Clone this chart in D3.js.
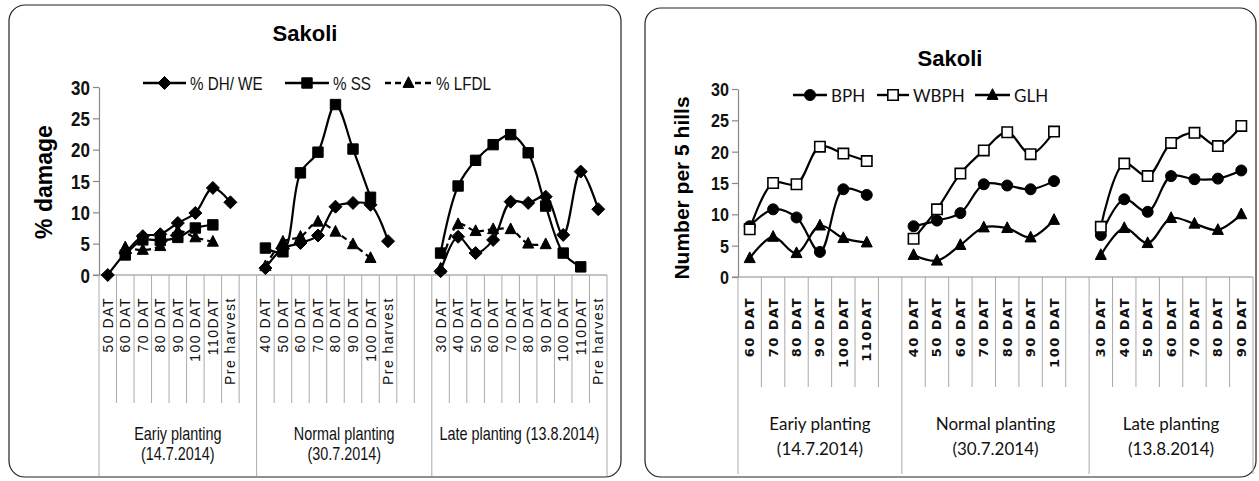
<!DOCTYPE html>
<html>
<head>
<meta charset="utf-8">
<script src="https://cdn.jsdelivr.net/npm/d3@7"></script>
<style>
  html, body { margin: 0; padding: 0; background: #fff; }
  svg { display: block; }
</style>
</head>
<body>
<svg id="chart" width="1259" height="481"></svg>
<script>
// ---------- Damage panel (left) ----------
const damageGroups = ["Eariy planting|(14.7.2014)", "Normal planting|(30.7.2014)", "Late planting (13.8.2014)"];
const damageCatsEarly  = ["50 DAT", "60 DAT", "70 DAT", "80 DAT", "90 DAT", "100 DAT", "110DAT", "Pre harvest", ""];
const damageCatsNormal = ["40 DAT", "50 DAT", "60 DAT", "70 DAT", "80 DAT", "90 DAT", "100 DAT", "Pre harvest", "", ""];
const damageCatsLate   = ["30 DAT", "40 DAT", "50 DAT", "60 DAT", "70 DAT", "80 DAT", "90 DAT", "100 DAT", "110DAT", "Pre harvest"];

const dhEarly    = [0, 3.5, 6.2, 6.5, 8.3, 9.9, 13.9, 11.6, null];
const ssEarly    = [null, 3.2, 5.6, 5.5, 6.0, 7.5, 8.0, null, null];
const lfdlEarly  = [null, 4.4, 4.0, 4.6, 7.0, 6.0, 5.3, null, null];
const dhNormal   = [1.1, 4.2, 5.1, 6.3, 10.9, 11.5, 11.2, 5.4, null, null];
const ssNormal   = [4.3, 3.7, 16.3, 19.6, 27.2, 20.1, 12.4, null, null, null];
const lfdlNormal = [1.4, 5.3, 6.1, 8.5, 6.9, 4.9, 2.7, null, null, null];
const dhLate     = [0.6, 6.1, 3.5, 5.6, 11.7, 11.5, 12.5, 6.4, 16.5, 10.5];
const ssLate     = [3.5, 14.2, 18.3, 20.8, 22.4, 19.5, 11.0, 3.5, 1.3, null];
const lfdlLate   = [1.0, 8.1, 7.0, 7.3, 7.3, 5.0, 4.9, null, null, null];

const damageSeriesNames = ["% DH/ WE", "% SS", "% LFDL"];
const damageTicks = [0, 5, 10, 15, 20, 25, 30];

// ---------- Insect count panel (right) ----------
const countGroups = ["Eariy planting|(14.7.2014)", "Normal planting|(30.7.2014)", "Late planting|(13.8.2014)"];
const countCatsEarly  = ["60 DAT", "70 DAT", "80 DAT", "90 DAT", "100 DAT", "110DAT", ""];
const countCatsNormal = ["40 DAT", "50 DAT", "60 DAT", "70 DAT", "80 DAT", "90 DAT", "100 DAT", ""];
const countCatsLate   = ["30 DAT", "40 DAT", "50 DAT", "60 DAT", "70 DAT", "80 DAT", "90 DAT"];

const bphEarly   = [8.1, 10.8, 9.5, 4.0, 14.0, 13.1, null];
const wbphEarly  = [7.6, 15.0, 14.8, 20.8, 19.7, 18.5, null];
const glhEarly   = [3.0, 6.4, 3.8, 8.2, 6.2, 5.5, null];
const bphNormal  = [8.1, 9.0, 10.2, 14.8, 14.6, 14.0, 15.3, null];
const wbphNormal = [6.1, 10.8, 16.5, 20.2, 23.1, 19.6, 23.2, null];
const glhNormal  = [3.5, 2.6, 5.1, 7.9, 7.8, 6.3, 9.1, null];
const bphLate    = [6.7, 12.4, 10.4, 16.1, 15.6, 15.7, 17.0];
const wbphLate   = [8.0, 18.1, 16.1, 21.4, 23.0, 20.9, 24.1];
const glhLate    = [3.5, 7.8, 5.4, 9.4, 8.5, 7.5, 10.0];

const countSeriesNames = ["BPH", "WBPH", "GLH"];
const countTicks = [0, 5, 10, 15, 20, 25, 30];

// ---------- marker shapes ----------
const shapes = {
  diamond: h => `M0,${-h}L${h},0L0,${h}L${-h},0Z`,
  square: h => `M${-h},${-h}H${h}V${h}H${-h}Z`,
  triangle: h => `M0,${-h * 1.15}L${h},${h * 0.8}L${-h},${h * 0.8}Z`,
  circle: h => `M${h},0A${h},${h} 0 1,1 ${-h},0A${h},${h} 0 1,1 ${h},0Z`
};

const SANS = "Liberation Sans, Arial, sans-serif";
const svg = d3.select("#chart");

// text squeezed horizontally to imitate a condensed face
function narrowText(parent, x, y, str, size, squeeze, anchor, weight) {
  return parent.append("text")
    .attr("transform", `translate(${x},${y}) scale(${squeeze},1)`)
    .attr("text-anchor", anchor || "start")
    .attr("dominant-baseline", "central")
    .style("font-family", SANS)
    .style("font-size", size + "px")
    .style("font-weight", weight || "normal")
    .attr("fill", "#111")
    .text(str);
}

function drawPanel(cfg) {
  const g = svg.append("g");

  // rounded frame
  g.append("rect")
    .attr("x", cfg.frame[0]).attr("y", cfg.frame[1])
    .attr("width", cfg.frame[2]).attr("height", cfg.frame[3])
    .attr("rx", 16).attr("ry", 16)
    .attr("fill", "none").attr("stroke", "#222").attr("stroke-width", 1.2);

  // title
  g.append("text")
    .attr("x", cfg.titleX).attr("y", cfg.titleY)
    .attr("text-anchor", "middle")
    .style("font-family", SANS)
    .style("font-weight", "bold").style("font-size", "22px")
    .text("Sakoli");

  // flatten categories into slots
  const slots = [];
  cfg.groups.forEach((grp, gi) => {
    grp.cats.forEach((c, ci) => slots.push({ key: gi + "-" + ci, label: c, gi, ci }));
  });

  const x = d3.scaleBand().domain(slots.map(s => s.key))
    .range([cfg.plot.x0, cfg.plot.x1]).paddingInner(0).paddingOuter(0);
  const y = d3.scaleLinear().domain([0, 30]).range([cfg.plot.y0, cfg.plot.y1]);

  // y axis
  const yAxis = d3.axisLeft(y).tickValues(cfg.ticks).tickSize(6).tickSizeOuter(0).tickPadding(5);
  const ya = g.append("g").attr("transform", `translate(${cfg.plot.x0},0)`).call(yAxis);
  ya.select(".domain").attr("stroke", "#888").attr("stroke-width", 1.2);
  ya.selectAll(".tick line").attr("stroke", "#888").attr("stroke-width", 1.2);
  ya.selectAll(".tick text").remove();
  ya.selectAll(".tick").each(function (d) {
    narrowText(d3.select(this), -9, 0, d, cfg.tickFont, 0.85, "end", "bold");
  });

  // y title
  g.append("text")
    .attr("transform", `translate(${cfg.yTitleX},${cfg.yTitleY}) rotate(-90)`)
    .attr("text-anchor", "middle")
    .style("font-family", SANS)
    .style("font-weight", "bold").style("font-size", cfg.yTitleFont)
    .attr("dominant-baseline", "central")
    .text(cfg.yTitle);

  // category axis (labels at band centres)
  const xAxis = d3.axisBottom(x).tickSize(0).tickFormat(k => slots.find(s => s.key === k).label);
  const xa = g.append("g").attr("transform", `translate(0,${cfg.plot.y0})`).call(xAxis);
  xa.select(".domain").remove();
  xa.selectAll(".tick text")
    .attr("transform", `translate(0,${cfg.catLabelTop - cfg.plot.y0}) rotate(-90)`)
    .attr("x", 0).attr("y", 0).attr("dy", null)
    .attr("text-anchor", "end").attr("dominant-baseline", "central")
    .style("font-family", cfg.catFontFamily)
    .style("font-size", cfg.catFont).style("font-weight", cfg.catWeight)
    .style("letter-spacing", cfg.catSpacing)
    .attr("fill", "#111");

  // horizontal baseline
  g.append("line")
    .attr("x1", cfg.plot.x0 - 6).attr("x2", cfg.plot.x1)
    .attr("y1", cfg.plot.y0).attr("y2", cfg.plot.y0)
    .attr("stroke", "#888").attr("stroke-width", 1.2);

  // slot boundaries: short ones between categories, long ones between groups
  const bounds = [];
  slots.forEach((s, i) => {
    const isGroupEdge = i === 0 || slots[i - 1].gi !== s.gi;
    bounds.push({ x: x(s.key), long: isGroupEdge });
  });
  bounds.push({ x: cfg.plot.x1, long: true });
  g.selectAll("line.bound").data(bounds).join("line")
    .attr("class", "bound")
    .attr("x1", d => d.x).attr("x2", d => d.x)
    .attr("y1", cfg.plot.y0)
    .attr("y2", d => d.long ? cfg.groupLineBottom : cfg.catLineBottom)
    .attr("stroke", "#aaa").attr("stroke-width", 1);

  // group labels
  cfg.groups.forEach((grp, gi) => {
    const keys = slots.filter(s => s.gi === gi).map(s => s.key);
    const cx = (x(keys[0]) + x(keys[keys.length - 1]) + x.bandwidth()) / 2;
    grp.name.split("|").forEach((ln, li) => {
      const yy = cfg.groupLabelY + li * cfg.groupLineGap;
      if (cfg.groupSqueeze) {
        narrowText(g, cx, yy, ln, cfg.groupFont, cfg.groupSqueeze, "middle");
      } else {
        g.append("text")
          .attr("x", cx).attr("y", yy)
          .attr("text-anchor", "middle").attr("dominant-baseline", "central")
          .style("font-family", cfg.groupFontFamily)
          .style("font-size", cfg.groupFont + "px")
          .attr("fill", "#111")
          .text(ln);
      }
    });
  });

  // series
  const line = d3.line()
    .defined(d => d.v !== null)
    .x(d => x(d.key) + x.bandwidth() / 2)
    .y(d => y(d.v))
    .curve(d3.curveCatmullRom.alpha(0.5));

  cfg.series.forEach(ser => {
    cfg.groups.forEach((grp, gi) => {
      const pts = ser.values[gi].map((v, ci) => ({ key: gi + "-" + ci, v }));
      g.append("path").datum(pts)
        .attr("d", line)
        .attr("fill", "none").attr("stroke", "#000")
        .attr("stroke-width", 2.2)
        .attr("stroke-dasharray", ser.dash || null);
      g.selectAll(null).data(pts.filter(p => p.v !== null)).join("path")
        .attr("transform", d => `translate(${x(d.key) + x.bandwidth() / 2},${y(d.v)})`)
        .attr("d", shapes[ser.shape](ser.size))
        .attr("fill", ser.open ? "#fff" : "#000")
        .attr("stroke", "#000").attr("stroke-width", ser.open ? 1.6 : 1);
    });
  });

  // legend
  cfg.legend.forEach((item, i) => {
    const ser = cfg.series[i];
    const lg = g.append("g");
    lg.append("line")
      .attr("x1", item.x0).attr("x2", item.x1)
      .attr("y1", cfg.legendY).attr("y2", cfg.legendY)
      .attr("stroke", "#000").attr("stroke-width", 2.4)
      .attr("stroke-dasharray", ser.dash || null);
    lg.append("path")
      .attr("transform", `translate(${(item.x0 + item.x1) / 2},${cfg.legendY})`)
      .attr("d", shapes[ser.shape](ser.size))
      .attr("fill", ser.open ? "#fff" : "#000")
      .attr("stroke", "#000").attr("stroke-width", ser.open ? 1.6 : 1);
    if (cfg.legendSqueeze) {
      narrowText(lg, item.x1 + 4, cfg.legendY, ser.name, cfg.legendFont, cfg.legendSqueeze, "start");
    } else {
      lg.append("text")
        .attr("x", item.x1 + 4).attr("y", cfg.legendY)
        .attr("dominant-baseline", "central")
        .style("font-family", cfg.legendFontFamily)
        .style("font-size", cfg.legendFont + "px")
        .attr("fill", "#111")
        .text(ser.name);
    }
  });
}

drawPanel({
  frame: [9, 5, 612, 472],
  titleX: 305, titleY: 41,
  plot: { x0: 99, x1: 607, y0: 275, y1: 87 },
  ticks: damageTicks,
  tickFont: 20,
  yTitle: "% damage", yTitleX: 44, yTitleY: 182, yTitleFont: "23px",
  groups: [
    { name: damageGroups[0], cats: damageCatsEarly },
    { name: damageGroups[1], cats: damageCatsNormal },
    { name: damageGroups[2], cats: damageCatsLate }
  ],
  catLabelTop: 297, catFont: "14px", catWeight: "normal", catSpacing: "1.5px",
  catFontFamily: SANS,
  catLineBottom: 403, groupLineBottom: 476,
  groupLabelY: 433, groupLineGap: 20, groupFont: 18, groupSqueeze: 0.8,
  series: [
    { name: damageSeriesNames[0], values: [dhEarly, dhNormal, dhLate], shape: "diamond", size: 6.5 },
    { name: damageSeriesNames[1], values: [ssEarly, ssNormal, ssLate], shape: "square", size: 5.2 },
    { name: damageSeriesNames[2], values: [lfdlEarly, lfdlNormal, lfdlLate], shape: "triangle", size: 5.5, dash: "6,4" }
  ],
  legendY: 83,
  legend: [{ x0: 143, x1: 186 }, { x0: 285, x1: 329 }, { x0: 385, x1: 432 }],
  legendFont: 19, legendSqueeze: 0.8
});

drawPanel({
  frame: [645, 8, 611, 469],
  titleX: 950, titleY: 66,
  plot: { x0: 738, x1: 1253, y0: 277, y1: 89 },
  ticks: countTicks,
  tickFont: 19,
  yTitle: "Number per 5 hills", yTitleX: 681, yTitleY: 188, yTitleFont: "21px",
  groups: [
    { name: countGroups[0], cats: countCatsEarly },
    { name: countGroups[1], cats: countCatsNormal },
    { name: countGroups[2], cats: countCatsLate }
  ],
  catLabelTop: 297, catFont: "13px", catWeight: "bold", catSpacing: "1.5px",
  catFontFamily: "DejaVu Sans, Verdana, sans-serif",
  catLineBottom: 387, groupLineBottom: 474,
  groupLabelY: 423, groupLineGap: 25, groupFont: 17,
  groupFontFamily: "Lato, Open Sans, sans-serif",
  series: [
    { name: countSeriesNames[0], values: [bphEarly, bphNormal, bphLate], shape: "circle", size: 5.5 },
    { name: countSeriesNames[1], values: [wbphEarly, wbphNormal, wbphLate], shape: "square", size: 5.2, open: true },
    { name: countSeriesNames[2], values: [glhEarly, glhNormal, glhLate], shape: "triangle", size: 5.5 }
  ],
  legendY: 95,
  legend: [{ x0: 793, x1: 827 }, { x0: 877, x1: 909 }, { x0: 975, x1: 1010 }],
  legendFont: 17,
  legendFontFamily: "Lato, Open Sans, sans-serif"
});
</script>
</body>
</html>
